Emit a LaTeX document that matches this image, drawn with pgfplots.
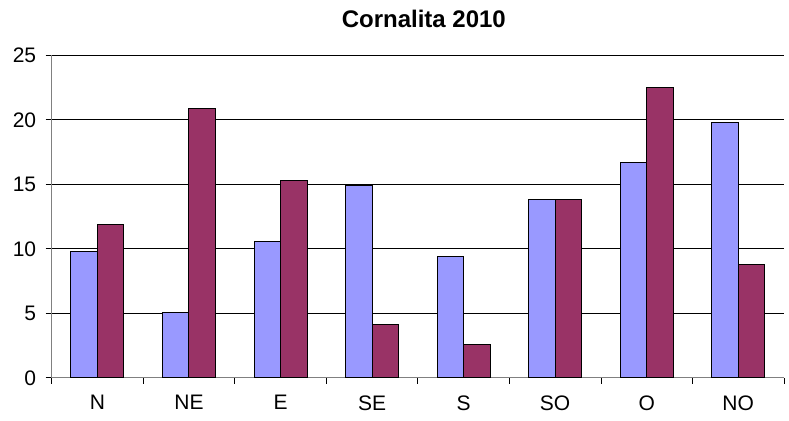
\documentclass[border=0pt]{standalone}
\usepackage{pgfplots}
\pgfplotsset{compat=1.18}
\usepackage{fontspec}
\setmainfont{Liberation Sans}
\definecolor{serA}{HTML}{9999FF}
\definecolor{serB}{HTML}{993366}
\definecolor{axgray}{HTML}{808080}
\begin{document}
\begin{tikzpicture}
\begin{axis}[
  name=ax,
  scale only axis,
  width=732.5pt, height=322.7pt,
  xmin=-0.5, xmax=7.5,
  ymin=0, ymax=25,
  ybar=0pt,
  bar width=26.5pt,
  axis x line*=bottom, axis y line*=left,
  axis line style={axgray, line width=1pt, -},
  xtick={0,...,7},
  xticklabels={N,NE,E,SE,S,SO,O,NO},
  minor xtick={-0.5,0.5,...,7.5},
  major x tick style={draw=none},
  minor x tick style={black, line width=0.8pt},
  minor tick length=6pt,
  ytick={0,5,...,25},
  y tick style={black, line width=0.8pt},
  major tick length=6pt,
  tick align=outside,
  tick pos=left,
  ymajorgrids,
  grid style={black, line width=0.8pt},
  /pgf/number format/assume math mode=true,
  tick label style={font=\fontsize{21}{24}\selectfont},
  xticklabel style={yshift=-8pt},
  yticklabel style={xshift=-6pt},
  title={Cornalita 2010},
  title style={at={(0.5,1)}, anchor=base, yshift=22pt, xshift=6pt, font=\bfseries\fontsize{24}{28}\selectfont},
  clip=false,
]
\addplot[fill=serA, draw=black, line width=1pt] coordinates {
 (0,9.8) (1,5.1) (2,10.6) (3,14.9) (4,9.4) (5,13.8) (6,16.7) (7,19.8)};
\addplot[fill=serB, draw=black, line width=1pt] coordinates {
 (0,11.9) (1,20.9) (2,15.3) (3,4.1) (4,2.6) (5,13.8) (6,22.5) (7,8.8)};
\end{axis}
\pgfresetboundingbox
\path ([shift={(-51.7pt,-43pt)}]ax.south west) rectangle ([shift={(5pt,55.3pt)}]ax.north east);
\end{tikzpicture}
\end{document}
